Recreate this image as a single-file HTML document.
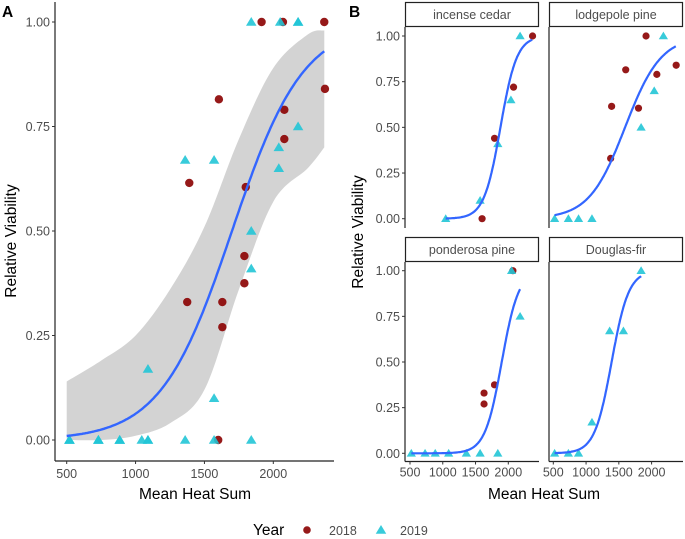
<!DOCTYPE html>
<html><head><meta charset="utf-8"><style>
html,body{margin:0;padding:0;background:#fff;}
svg{display:block;font-family:"Liberation Sans",Arial,sans-serif;}
.tick{font-size:12.5px;fill:#4d4d4d;}
.ttl{font-size:15.5px;fill:#000;}
</style></head><body>
<svg id="chart" width="685" height="539" viewBox="0 0 685 539"></svg>
<script>
// ---- data ----
const species = ["incense cedar","lodgepole pine","ponderosa pine","Douglas-fir"];
const cedarX18 = [1600,1790,2080,2370];
const cedarY18 = [0,0.44,0.72,1.0];
const cedarX19 = [1045,1570,1840,2040,2180];
const cedarY19 = [0,0.10,0.41,0.65,1.0];
const lodgeX18 = [1375,1390,1605,1800,1915,2080,2375];
const lodgeY18 = [0.33,0.615,0.815,0.605,1.0,0.79,0.84];
const lodgeX19 = [520,730,885,1090,1840,2040,2180];
const lodgeY19 = [0,0,0,0,0.50,0.70,1.0];
const pondX18 = [1630,1630,1790,2070];
const pondY18 = [0.33,0.27,0.375,1.0];
const pondX19 = [520,730,885,1090,1360,1570,1840,2050,2180];
const pondY19 = [0,0,0,0,0,0,0,1.0,0.75];
const dougX18 = [];
const dougY18 = [];
const dougX19 = [520,730,885,1090,1360,1570,1840];
const dougY19 = [0,0,0,0.17,0.67,0.67,1.0];
// logistic fit params per species
const fitMid = [1880,1595,1900,1390];
const fitSlope = [0.0080,0.00364,0.0078,0.0077];
const fitMin = [1045,520,520,520];
const fitMax = [2370,2370,2180,1840];
// pooled fit (panel A)
const allMid = 1700, allSlope = 0.00386, allMin = 500, allMax = 2370;
const bandX = [500,750,1000,1250,1500,1750,2000,2250,2370];
const bandLo = [0.0,0.0,0.01,0.04,0.12,0.36,0.57,0.65,0.70];
const bandHi = [0.14,0.19,0.25,0.36,0.51,0.72,0.89,0.97,0.98];
const yTicks = [0,0.25,0.5,0.75,1.0];
const yTickLabels = ["0.00","0.25","0.50","0.75","1.00"];
const xTicksA = [500,1000,1500,2000];
const xTicksB = [500,1000,1500,2000];

const NS="http://www.w3.org/2000/svg";
const svg=document.getElementById('chart');
function mk(tag,attrs,parent){const e=document.createElementNS(NS,tag);for(const k in attrs)e.setAttribute(k,attrs[k]);(parent||svg).appendChild(e);return e;}
const C18="#8b0000", C19="#22c5d6", BLUE="#3366ff";
function logistic(x,m,s){return 1/(1+Math.exp(-s*(x-m)));}
function circle(g,x,y,r){const c=mk('circle',{cx:x,cy:y,r:r,fill:C18,'fill-opacity':0.9},g);

}
function tri(g,x,y,r){const t=mk('polygon',{points:`${x},${y-r} ${x-r*1.05},${y+r*0.75} ${x+r*1.05},${y+r*0.75}`,fill:C19,'fill-opacity':0.9},g);

}
function text(g,x,y,s,cls,anchor,extra){const t=mk('text',Object.assign({x:x,y:y,class:cls,'text-anchor':anchor||'middle'},extra||{}),g);t.textContent=s;return t;}
function spline(pts,first){ // catmull-rom
 let d=(first?'M':'L')+pts[0][0]+','+pts[0][1];
 for(let i=0;i<pts.length-1;i++){const p0=pts[Math.max(i-1,0)],p1=pts[i],p2=pts[i+1],p3=pts[Math.min(i+2,pts.length-1)];
  const c1=[p1[0]+(p2[0]-p0[0])/6,p1[1]+(p2[1]-p0[1])/6],c2=[p2[0]-(p3[0]-p1[0])/6,p2[1]-(p3[1]-p1[1])/6];
  d+=`C${c1[0].toFixed(1)},${c1[1].toFixed(1)} ${c2[0].toFixed(1)},${c2[1].toFixed(1)} ${p2[0].toFixed(1)},${p2[1].toFixed(1)}`;}
 return d;}

// ---------- Panel A ----------
const gA=mk('g',{});


const ax=v=>66.7+(v-500)*(206.6/1500);
const ay=v=>440-v*418;
const hiPts=bandX.map((x,i)=>[ax(x),ay(bandHi[i])]);
const loPts=bandX.map((x,i)=>[ax(x),ay(bandLo[i])]).reverse();
const band=mk('path',{d:spline(hiPts,true)+spline(loPts,false)+'Z',fill:'#d3d3d3'},gA);


const allX18=[...cedarX18,...lodgeX18,...pondX18,...dougX18],allY18=[...cedarY18,...lodgeY18,...pondY18,...dougY18];
const allX19=[...cedarX19,...lodgeX19,...pondX19,...dougX19],allY19=[...cedarY19,...lodgeY19,...pondY19,...dougY19];
allX18.forEach((x,i)=>circle(gA,ax(x),ay(allY18[i]),4.2));
allX19.forEach((x,i)=>tri(gA,ax(x),ay(allY19[i]),5));
let d='';for(let x=allMin;x<=allMax;x+=10){d+=(d?'L':'M')+ax(x).toFixed(1)+','+ay(logistic(x,allMid,allSlope)).toFixed(1);}
const cA=mk('path',{d:d,fill:'none',stroke:BLUE,'stroke-width':2.4},gA);


mk('line',{x1:55,y1:2,x2:55,y2:461,stroke:'#222','stroke-width':1.2},gA);
mk('line',{x1:55,y1:461,x2:334,y2:461,stroke:'#222','stroke-width':1.2},gA);
yTicks.forEach((v,i)=>{mk('line',{x1:52,y1:ay(v),x2:55,y2:ay(v),stroke:'#333'},gA);text(gA,50,ay(v)+4.5,yTickLabels[i],'tick','end');});
xTicksA.forEach(v=>{mk('line',{x1:ax(v),y1:461,x2:ax(v),y2:464,stroke:'#333'},gA);text(gA,ax(v),478,String(v),'tick');});
const xtA=text(gA,195,499,'Mean Heat Sum','ttl');


const ytA=text(gA,16,241,'Relative Viability','ttl','middle',{transform:'rotate(-90 16 241)'});


const la=text(gA,2,17,'A','ttl','start',{'font-weight':'bold','font-size':'16px'});



// ---------- Panel B ----------
const panels=[
 {x18:cedarX18,y18:cedarY18,x19:cedarX19,y19:cedarY19,left:405,x0:410,top:2,y1:36,y0:218.7,bottom:228},
 {x18:lodgeX18,y18:lodgeY18,x19:lodgeX19,y19:lodgeY19,left:549,x0:553.3,top:2,y1:36,y0:218.7,bottom:228},
 {x18:pondX18,y18:pondY18,x19:pondX19,y19:pondY19,left:405,x0:410,top:237,y1:270.7,y0:453.3,bottom:461.5},
 {x18:dougX18,y18:dougY18,x19:dougX19,y19:dougY19,left:549,x0:553.3,top:237,y1:270.7,y0:453.3,bottom:461.5}
];
const gB=mk('g',{});


panels.forEach((p,k)=>{
 const g=mk('g',{},gB);
 
 
 const bx=v=>p.x0+(v-500)*(98.3/1500);
 const by=v=>p.y0-v*(p.y0-p.y1);
 const right=p.left+134;
 const strip=mk('rect',{x:p.left+0.5,y:p.top+0.5,width:133,height:24,fill:'#fff',stroke:'#222','stroke-width':1.2},g);
 
 
 text(g,p.left+67,p.top+17,species[k],'tick','middle',{'font-size':'12.5px',fill:'#1a1a1a'});
 p.x18.forEach((x,i)=>circle(g,bx(x),by(p.y18[i]),3.6));
 p.x19.forEach((x,i)=>tri(g,bx(x),by(p.y19[i]),4.4));
 let d='';for(let x=fitMin[k];x<=fitMax[k];x+=10){d+=(d?'L':'M')+bx(x).toFixed(1)+','+by(logistic(x,fitMid[k],fitSlope[k])).toFixed(1);}
 const c=mk('path',{d:d,fill:'none',stroke:BLUE,'stroke-width':2.2},g);
 
 
 mk('line',{x1:p.left,y1:p.top+25,x2:p.left,y2:p.bottom,stroke:'#222','stroke-width':1.2},g);
 if(k>=2){mk('line',{x1:p.left,y1:p.bottom,x2:right,y2:p.bottom,stroke:'#222','stroke-width':1.2},g);
  xTicksB.forEach(v=>{mk('line',{x1:bx(v),y1:p.bottom,x2:bx(v),y2:p.bottom+3,stroke:'#333'},g);text(g,bx(v),p.bottom+15,String(v),'tick','middle',{'font-size':'12px'});});}
 if(k%2===0){yTicks.forEach((v,i)=>{mk('line',{x1:p.left-3,y1:by(v),x2:p.left,y2:by(v),stroke:'#333'},g);text(g,p.left-5,by(v)+4.5,yTickLabels[i],'tick','end');});}
});
const xtB=text(gB,544,499,'Mean Heat Sum','ttl');


const ytB=text(gB,363,232,'Relative Viability','ttl','middle',{transform:'rotate(-90 363 232)'});


const lb=text(gB,349,17,'B','ttl','start',{'font-weight':'bold','font-size':'16px'});



// ---------- Legend ----------
const gL=mk('g',{});


text(gL,253,535,'Year','ttl','start');
circle(gL,307,530,3.8);
text(gL,329,535,'2018','tick','start',{'font-size':'12.5px',fill:'#222'});
tri(gL,381,530,5);
text(gL,400,535,'2019','tick','start',{'font-size':'12.5px',fill:'#222'});
</script>
</body></html>
